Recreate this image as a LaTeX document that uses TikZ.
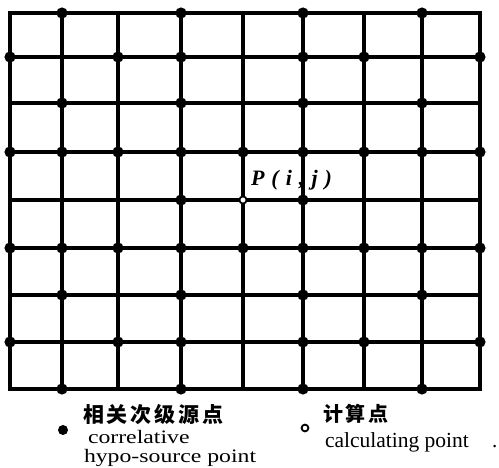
\documentclass[tikz,border=0pt]{standalone}
\usepackage{fontspec}
\setmainfont{Liberation Serif}
\newfontfamily\cjk[LetterSpace=14]{Noto Sans CJK SC}
\newfontfamily\widefont[FakeStretch=1.25]{Liberation Serif}
\newfontfamily\plabelfont[LetterSpace=32]{Liberation Serif}
\tikzset{
  gridline/.style={line width=3.1pt, line cap=rect, black},
  srcdot/.style={fill=black},
  calcdot/.style={draw=black, fill=white, line width=1.8pt},
  txt/.style={inner sep=0pt, outer sep=0pt, text=black},
}
\begin{document}
\begin{tikzpicture}[x=1pt, y=-1pt]
\useasboundingbox (0,0) rectangle (499,468);
% grid coordinates
\foreach \x [count=\i from 0] in {10,62,118,181,243,303,364,422,480} {
  \foreach \y [count=\j from 0] in {13,57,103,152,200,248,295,342,389} {
    \coordinate (g-\i-\j) at (\x,\y);
  }
}
% grid lines
\foreach \i in {0,...,8} {
  \draw[gridline] (g-\i-0) -- (g-\i-8);
  \draw[gridline] (g-0-\i) -- (g-8-\i);
}
% correlative hypo-source points
\foreach \j/\cols in {0/{1,3,5,7}, 1/{0,2,3,5,6,8}, 2/{1,3,5,7},
    3/{0,1,2,3,4,5,6,7,8}, 4/{3,5}, 5/{0,1,2,3,4,5,6,7,8},
    6/{1,3,5,7}, 7/{0,2,3,5,6,8}, 8/{1,3,5,7}} {
  \foreach \i in \cols {
    \fill[srcdot] (g-\i-\j) circle (5.6);
  }
}
% calculating point
\filldraw[calcdot] (g-4-4) circle (3.6);
\node[txt, anchor=base west] (plabel) at (251,186)
  {\plabelfont\fontsize{22}{26}\selectfont\bfseries\itshape P(i,j)};
% legend
\coordinate (lsrc) at (63,430);
\fill[srcdot] (lsrc) circle (5);
\node[txt, anchor=west] (zh1) at (83,415)
  {\cjk\fontsize{21}{24}\selectfont\bfseries 相关次级源点};
\node[txt, anchor=base west] (en1a) at (88,444)
  {\widefont\fontsize{19}{20}\selectfont correlative};
\node[txt, anchor=base west] (en1b) at (84,462)
  {\widefont\fontsize{19}{20}\selectfont hypo-source point};
\coordinate (lcalc) at (305,428);
\filldraw[calcdot] (lcalc) circle (3.4);
\node[txt, anchor=west] (zh2) at (323,414)
  {\cjk\fontsize{20}{22}\selectfont\bfseries 计算点};
\node[txt, anchor=base west] (en2) at (325,447)
  {\fontsize{21.5}{24}\selectfont calculating point};
\node[txt, anchor=base west] (en2dot) at (492,447)
  {\fontsize{21}{24}\selectfont .};
\end{tikzpicture}
\end{document}
